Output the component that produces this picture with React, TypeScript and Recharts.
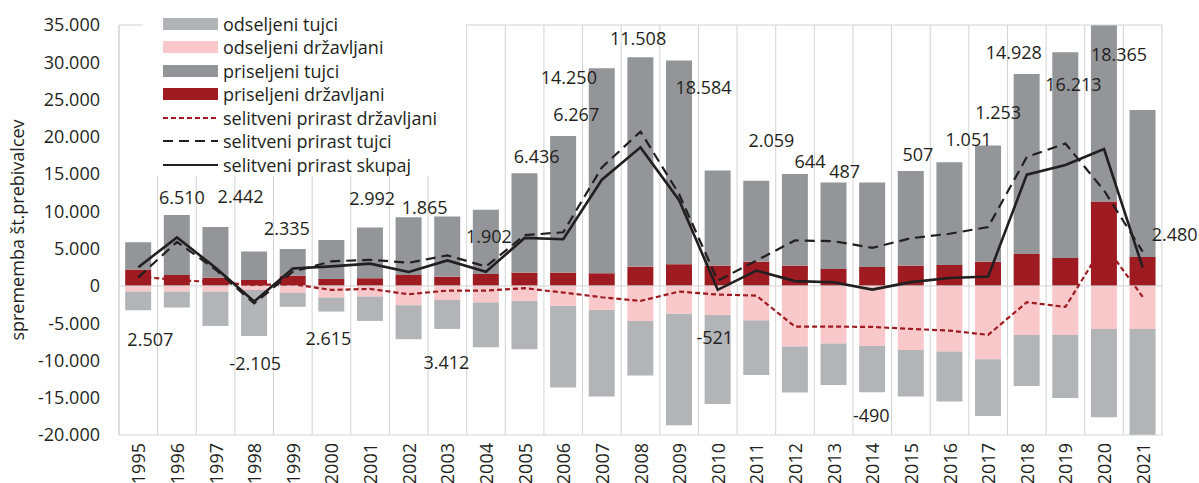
import { ComposedChart, Bar, Line, XAxis, YAxis, CartesianGrid, ReferenceLine, Legend, LabelList } from 'recharts';

// leta
const years = [
  '1995', '1996', '1997', '1998', '1999', '2000', '2001', '2002', '2003', '2004', '2005', '2006', '2007', '2008',
  '2009', '2010', '2011', '2012', '2013', '2014', '2015', '2016', '2017', '2018', '2019', '2020', '2021',
];

// priseljeni / odseljeni (odseljeni kot pozitivna števila)
const priseljeniDrzavljani = [2190, 1475, 1120, 805, 1385, 940, 1030, 1475, 1250, 1610, 1790, 1790, 1700, 2590, 2910, 2730, 3260, 2730, 2280, 2550, 2730, 2820, 3260, 4290, 3760, 11310, 3890];
const priseljeniTujci = [3670, 8050, 6795, 3795, 3575, 5230, 6790, 7740, 8050, 8590, 13330, 18330, 27500, 28090, 27320, 12740, 10830, 12290, 11580, 11310, 12700, 13770, 15560, 24150, 27590, 24675, 19720];
const odseljeniDrzavljani = [760, 760, 760, 540, 940, 1560, 1430, 2590, 1880, 2240, 2010, 2680, 3220, 4700, 3720, 3890, 4650, 8140, 7740, 8050, 8590, 8810, 9840, 6570, 6570, 5770, 5770];
const odseljeniTujci = [2500, 2140, 4610, 6170, 1860, 1880, 3270, 4560, 3890, 5990, 6490, 10960, 11630, 7330, 14970, 11940, 7290, 6170, 5540, 6210, 6260, 6710, 7600, 6850, 8450, 11850, 15360];

// selitveni prirast
const prirastDrzavljani = [1250, 800, 490, 130, 230, -540, -400, -1120, -630, -630, -310, -890, -1520, -2010, -760, -1160, -1300, -5460, -5460, -5500, -5770, -5990, -6570, -2190, -2820, 5600, -1470];
const prirastTujci = [1150, 5900, 2200, -2350, 1900, 3300, 3500, 3100, 4100, 2600, 6800, 7200, 15900, 20700, 12300, 700, 3400, 6100, 6000, 5100, 6400, 7000, 7900, 17300, 19100, 12800, 4600];
const prirastSkupaj = [2507, 6510, 2442, -2105, 2335, 2615, 2992, 1865, 3412, 1902, 6436, 6267, 14250, 18584, 11508, -521, 2059, 644, 487, -490, 507, 1051, 1253, 14928, 16213, 18365, 2480];

const yTicks = [35000, 30000, 25000, 20000, 15000, 10000, 5000, 0, -5000, -10000, -15000, -20000];

// zamik oznak (px) glede na točko na črti
const labelShift: [number, number][] = [
  [12, 72], [5, -40], [25, -72], [1, 61], [-6, -41], [-3, 72], [2, -66], [16, -65], [-1, 102], [3, -36],
  [12, -82], [13, -125], [-33, -103], [63, -60], [-41, -162], [-3, 47], [15, -131], [15, -120], [11, -111],
  [-1, 125], [7, -128], [19, -139], [10, -165], [-13, -123], [8, -81], [15, -95], [32, -33],
];

const data = years.map((year, i) => ({
  year,
  pd: priseljeniDrzavljani[i],
  pt: priseljeniTujci[i],
  od: -odseljeniDrzavljani[i],
  ot: -odseljeniTujci[i],
  sd: prirastDrzavljani[i],
  st: prirastTujci[i],
  ss: prirastSkupaj[i],
}));

const C = {
  pd: '#9e1b21',
  pt: '#939598',
  od: '#f9c8ca',
  ot: '#b2b4b7',
  line: '#231f20',
  grid: '#d3d3d3',
};

const FONT = '"Open Sans", sans-serif';

const fmt = (v: number) => {
  const s = Math.abs(v).toString().replace(/\B(?=(\d{3})+(?!\d))/g, '.');
  return v < 0 ? '-' + s : s;
};

const legendItems = [
  { name: 'odseljeni tujci', color: C.ot, type: 'bar' },
  { name: 'odseljeni državljani', color: C.od, type: 'bar' },
  { name: 'priseljeni tujci', color: C.pt, type: 'bar' },
  { name: 'priseljeni državljani', color: C.pd, type: 'bar' },
  { name: 'selitveni prirast državljani', color: C.pd, type: 'line', dash: '5 3' },
  { name: 'selitveni prirast tujci', color: C.line, type: 'line', dash: '10 6' },
  { name: 'selitveni prirast skupaj', color: C.line, type: 'line' },
];

const LegendBox = () => (
  <div style={{ background: '#fff', padding: '7px 0 0 20px', boxSizing: 'border-box', width: 323, height: 171 }}>
    {legendItems.map((it) => (
      <div key={it.name} style={{ display: 'flex', alignItems: 'center', height: 23.5, fontSize: 18, color: '#231f20', whiteSpace: 'nowrap' }}>
        <svg width={55} height={14} style={{ marginRight: 5, flex: 'none' }}>
          {it.type === 'bar' ? (
            <rect x={0} y={1} width={55} height={12} fill={it.color} />
          ) : (
            <line x1={0} x2={55} y1={7} y2={7} stroke={it.color} strokeWidth={2.2} strokeDasharray={it.dash} />
          )}
        </svg>
        <span>{it.name}</span>
      </div>
    ))}
  </div>
);

const YearTick = ({ x, y, payload }: any) => (
  <text
    x={x}
    y={y}
    transform={`rotate(-90, ${x}, ${y})`}
    textAnchor="end"
    dominantBaseline="central"
    fontSize={18}
    fontFamily={FONT}
    fill="#231f20"
  >
    {payload.value}
  </text>
);

const SkupajLabel = ({ x, y, index, value }: any) => {
  const [dx, dy] = labelShift[index] || [0, 0];
  return (
    <text x={x + dx} y={y + dy} textAnchor="middle" dominantBaseline="central" fontSize={18} fontFamily={FONT} fill="#231f20">
      {fmt(value)}
    </text>
  );
};

export default function App() {
  return (
    <div style={{ position: 'absolute', left: 0, top: 0, width: 1199, height: 483, background: '#fff', fontFamily: FONT }}>
      <ComposedChart
        width={1199}
        height={483}
        data={data}
        stackOffset="sign"
        barCategoryGap="16%"
        margin={{ top: 25, right: 37, bottom: 0, left: 0 }}
      >
        <CartesianGrid
          horizontal={false}
          stroke={C.grid}
          verticalCoordinatesGenerator={({ offset }: any) =>
            Array.from({ length: years.length + 1 }, (_, i) => offset.left + (i * offset.width) / years.length)
          }
        />
        <XAxis
          dataKey="year"
          height={48}
          interval={0}
          tickLine={false}
          tickSize={0}
          tickMargin={8}
          axisLine={{ stroke: C.grid }}
          tick={<YearTick />}
        />
        <YAxis
          width={119}
          domain={[-20000, 35000]}
          ticks={yTicks}
          allowDataOverflow
          interval={0}
          tickLine={false}
          tickSize={0}
          tickMargin={19}
          axisLine={{ stroke: C.grid }}
          tickFormatter={fmt}
          tick={{ fontSize: 18, fill: '#231f20', fontFamily: FONT }}
          label={{
            value: 'sprememba št.prebivalcev',
            angle: -90,
            position: 'insideLeft',
            offset: 18,
            style: { fontSize: 18, fill: '#231f20', fontFamily: FONT, textAnchor: 'middle' },
          }}
        />
        <ReferenceLine y={35000} stroke={C.grid} />
        <Bar dataKey="pd" stackId="a" fill={C.pd} name="priseljeni državljani" isAnimationActive={false} />
        <Bar dataKey="pt" stackId="a" fill={C.pt} name="priseljeni tujci" isAnimationActive={false} />
        <Bar dataKey="od" stackId="a" fill={C.od} name="odseljeni državljani" isAnimationActive={false} />
        <Bar dataKey="ot" stackId="a" fill={C.ot} name="odseljeni tujci" isAnimationActive={false} />
        <ReferenceLine y={0} stroke={C.grid} />
        <Line
          dataKey="sd"
          name="selitveni prirast državljani"
          stroke={C.pd}
          strokeWidth={2.2}
          strokeDasharray="5 3"
          dot={false}
          isAnimationActive={false}
        />
        <Line
          dataKey="st"
          name="selitveni prirast tujci"
          stroke={C.line}
          strokeWidth={2.2}
          strokeDasharray="10 6"
          dot={false}
          isAnimationActive={false}
        />
        <Line dataKey="ss" name="selitveni prirast skupaj" stroke={C.line} strokeWidth={2.6} dot={false} isAnimationActive={false}>
          <LabelList dataKey="ss" content={<SkupajLabel />} />
        </Line>
        <Legend
          layout="vertical"
          align="center"
          verticalAlign="middle"
          content={<LegendBox />}
          wrapperStyle={{ position: 'absolute', left: 143, top: 5, width: 323, height: 171, margin: 0 }}
        />
      </ComposedChart>
    </div>
  );
}
